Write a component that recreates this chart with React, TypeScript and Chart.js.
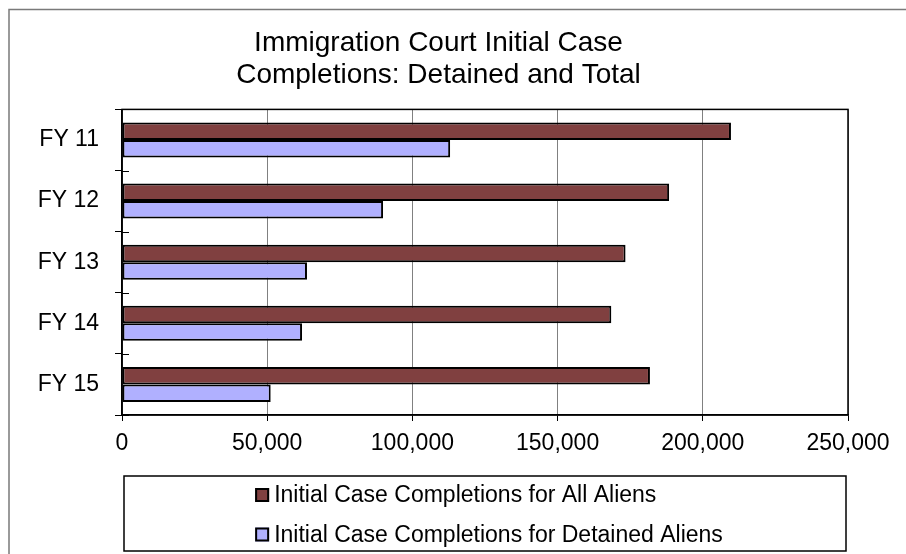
import React, { useEffect, useRef } from 'react';
import { Chart, registerables } from 'chart.js';

Chart.register(...registerables);

const categories = ['FY 11', 'FY 12', 'FY 13', 'FY 14', 'FY 15'];
const allAliens = [209700, 188400, 173400, 168500, 181800];
const detainedAliens = [113000, 89900, 63700, 62000, 51200];
const seriesLabels = [
  'Initial Case Completions for All Aliens',
  'Initial Case Completions for Detained Aliens',
];
const seriesColors = ['#804040', '#b0b0ff'];
const titleLines = ['Immigration Court Initial Case', 'Completions: Detained and Total'];
const xTicks = [0, 50000, 100000, 150000, 200000, 250000];

const FONT = "'Liberation Sans', Arial, sans-serif";

const decorPlugin = {
  id: 'decor',
  beforeDraw(chart: any) {
    const { ctx, width, height } = chart;
    ctx.save();
    ctx.fillStyle = '#ffffff';
    ctx.fillRect(0, 0, width, height);
    ctx.strokeStyle = '#7a7a7a';
    ctx.lineWidth = 1.5;
    ctx.strokeRect(1, 1.5, width + 10, height + 10);
    ctx.restore();
  },
  afterDraw(chart: any) {
    const { ctx, chartArea: ca } = chart;
    const ys = chart.scales.y;
    const xs = chart.scales.x;
    ctx.save();
    // plot frame
    ctx.strokeStyle = '#000';
    ctx.lineWidth = 1.5;
    ctx.strokeRect(ca.left, ca.top, ca.right - ca.left, ca.bottom - ca.top);
    // inward half of the crossing category ticks
    ctx.lineWidth = 1;
    const n = categories.length;
    for (let i = 0; i <= n; i++) {
      const py = Math.round(ys.getPixelForValue(i - 0.5)) + 0.5;
      ctx.beginPath();
      ctx.moveTo(ca.left, py);
      ctx.lineTo(ca.left + 7, py);
      ctx.stroke();
    }
    // legend box
    const top = xs.bottom + 18;
    const boxH = 75;
    const left = ca.left + 2;
    const right = ca.right - 2;
    ctx.lineWidth = 1.5;
    ctx.strokeStyle = '#000';
    ctx.strokeRect(left, top, right - left, boxH);
    ctx.font = `23px ${FONT}`;
    ctx.textBaseline = 'middle';
    ctx.textAlign = 'left';
    const widths = chart.data.datasets.map((d: any) => ctx.measureText(d.label).width);
    const maxW = Math.max(...widths);
    const sw = 14;
    const contentW = sw + 5 + maxW;
    const startX = (left + right) / 2 - contentW / 2 + 4;
    const rowCenters = [top + 19, top + 58.5];
    chart.data.datasets.forEach((d: any, i: number) => {
      const cy = rowCenters[i];
      ctx.fillStyle = d.backgroundColor;
      ctx.fillRect(startX, cy - sw / 2, sw, sw);
      ctx.lineWidth = 2;
      ctx.strokeStyle = '#000';
      ctx.strokeRect(startX + 1, cy - sw / 2 + 1, sw - 2, sw - 2);
      ctx.fillStyle = '#000';
      ctx.fillText(d.label, startX + sw + 5, cy + 1);
    });
    ctx.restore();
  },
};

export default function App() {
  const ref = useRef<HTMLCanvasElement | null>(null);

  useEffect(() => {
    if (!ref.current) return;
    const chart = new Chart(ref.current, {
      type: 'bar',
      data: {
        labels: categories,
        datasets: [
          {
            label: seriesLabels[0],
            data: allAliens,
            backgroundColor: seriesColors[0],
            borderColor: '#000',
            borderWidth: 2,
            borderSkipped: false,
            categoryPercentage: 0.574,
            barPercentage: 1,
          },
          {
            label: seriesLabels[1],
            data: detainedAliens,
            backgroundColor: seriesColors[1],
            borderColor: '#000',
            borderWidth: 2,
            borderSkipped: false,
            categoryPercentage: 0.574,
            barPercentage: 1,
          },
        ],
      },
      options: {
        indexAxis: 'y',
        responsive: false,
        animation: false,
        layout: { padding: { left: 21, right: 58, top: 0, bottom: 96 } },
        plugins: {
          legend: { display: false },
          tooltip: { enabled: false },
          title: {
            display: true,
            text: titleLines,
            color: '#000',
            font: { family: FONT, size: 28, weight: 'normal', lineHeight: 1.15 },
            padding: { top: 19, bottom: 18 },
          },
        },
        scales: {
          x: {
            type: 'linear',
            position: 'bottom',
            min: 0,
            max: 250000,
            afterFit: (s: any) => {
              s.height = 43;
            },
            afterBuildTicks: (s: any) => {
              s.ticks = xTicks.map((v) => ({ value: v }));
            },
            ticks: {
              color: '#000',
              padding: 9,
              font: { family: FONT, size: 23 },
              callback: (v: any) => Number(v).toLocaleString('en-US'),
            },
            grid: { color: '#808080', tickColor: '#000', tickLength: 6, lineWidth: 1 },
            border: { color: '#000', width: 1.5 },
          },
          y: {
            type: 'category',
            afterFit: (s: any) => {
              s.width = 93;
            },
            grid: {
              offset: true,
              drawOnChartArea: false,
              color: '#000',
              tickLength: 7,
              lineWidth: 1,
            },
            ticks: {
              color: '#000',
              padding: 16,
              font: { family: FONT, size: 23 },
            },
            border: { color: '#000', width: 1.5 },
          },
        },
      } as any,
      plugins: [decorPlugin],
    });
    return () => chart.destroy();
  }, []);

  return (
    <div style={{ position: 'fixed', left: 8, top: 8, width: 898, height: 546 }}>
      <canvas ref={ref} width={898} height={546} />
    </div>
  );
}
